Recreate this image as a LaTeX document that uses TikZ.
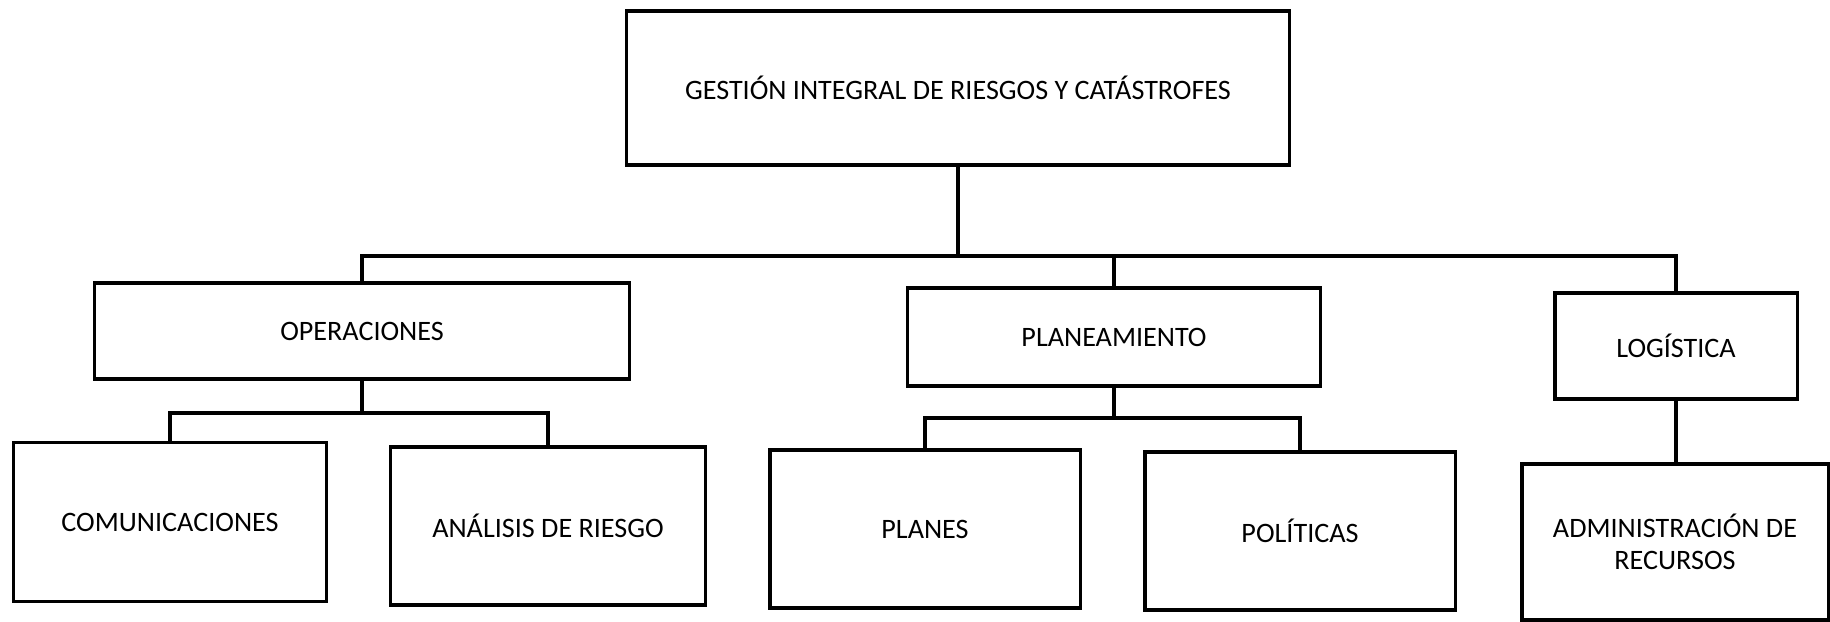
\documentclass[tikz,border=0pt]{standalone}
\usepackage{fontspec}
\setmainfont{Carlito}

\begin{document}
\begin{tikzpicture}[
  x=0.01cm, y=-0.01cm,
  font=\fontsize{8}{9.2}\selectfont,
  edge/.style={line width=0.9pt},
  box/.style={draw=black,line width=0.9pt,inner sep=0pt,align=center,fill=white},
]

% ---- canvas ----
\useasboundingbox (0,0) rectangle (1830,622);

% ---- top level ----
\node[box,minimum width=6.62cm,minimum height=1.54cm] (root) at (958,88)
  {GESTIÓN INTEGRAL DE RIESGOS Y CATÁSTROFES};

% ---- second level ----
\node[box,minimum width=5.34cm,minimum height=0.96cm] (oper) at (362,331) {OPERACIONES};
\node[box,minimum width=4.13cm,minimum height=0.98cm] (plan) at (1114,337) {PLANEAMIENTO};
\node[box,minimum width=2.42cm,minimum height=1.06cm] (logi) at (1676,346) {LOGÍSTICA};

% ---- third level ----
\node[box,minimum width=3.12cm,minimum height=1.59cm] (comu) at (170,522) {COMUNICACIONES};
\node[box,minimum width=3.15cm,minimum height=1.58cm] (anal) at (548,526) {ANÁLISIS DE RIESGO};
\node[box,minimum width=3.10cm,minimum height=1.58cm] (plns) at (925,529) {PLANES};
\node[box,minimum width=3.10cm,minimum height=1.58cm] (poli) at (1300,531) {POLÍTICAS};
\node[box,minimum width=3.06cm,minimum height=1.56cm] (admi) at (1675,542)
  {ADMINISTRACIÓN DE\\RECURSOS};

% ---- bus lines ----
\coordinate (bus)  at (0,256);
\coordinate (obus) at (0,413);
\coordinate (pbus) at (0,418);

% root -> second level
\draw[edge] (root.south) -- (root.south |- bus);
\draw[edge] (oper.north) -- (oper.north |- bus) -- (logi.north |- bus) -- (logi.north);
\draw[edge] (plan.north) -- (plan.north |- bus);

% operaciones
\draw[edge] (oper.south) -- (oper.south |- obus);
\draw[edge] (comu.north) -- (comu.north |- obus) -- (anal.north |- obus) -- (anal.north);

% planeamiento
\draw[edge] (plan.south) -- (plan.south |- pbus);
\draw[edge] (plns.north) -- (plns.north |- pbus) -- (poli.north |- pbus) -- (poli.north);

% logistica
\draw[edge] (logi.south) -- (logi.south |- admi.north);

\end{tikzpicture}
\end{document}
